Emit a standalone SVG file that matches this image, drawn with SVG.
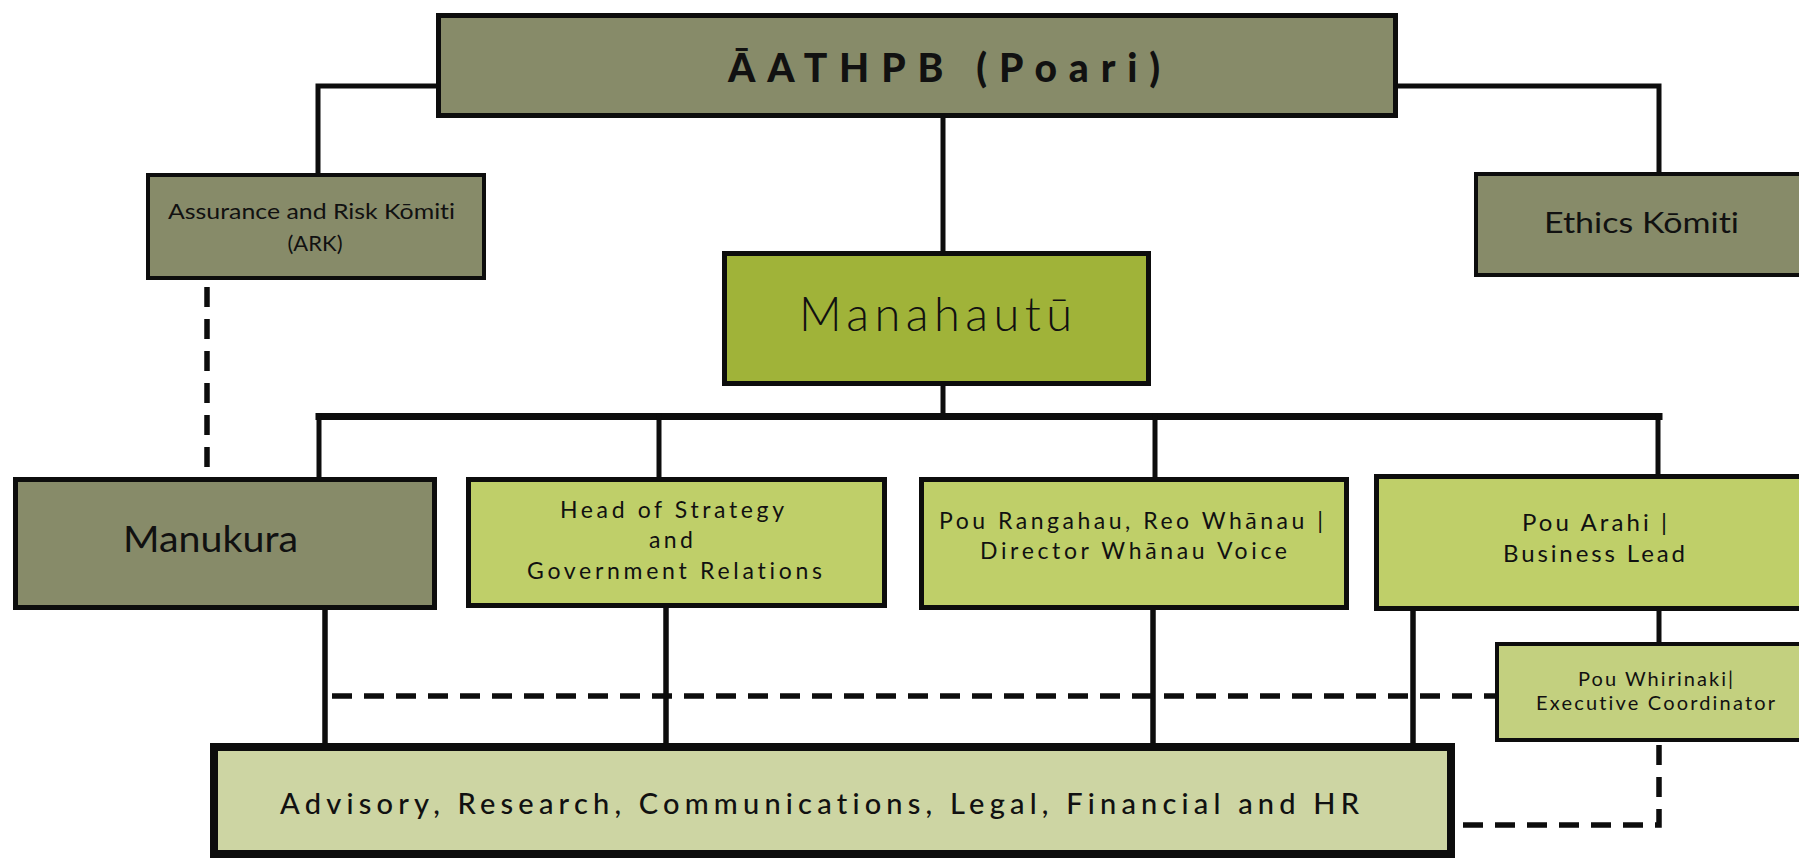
<svg xmlns="http://www.w3.org/2000/svg" width="1799" height="859" viewBox="0 0 1799 859">
<style>
.box{stroke:#0d0d0d;}
.dark{fill:#878b69;}
.lime{fill:#a0b339;}
.light{fill:#bfcf69;}
.pale{fill:#c3d07f;}
.adv{fill:#cdd5a3;}
.t{font-family:Lato,"Open Sans","Liberation Sans",sans-serif;fill:#111;font-variant-ligatures:none;font-feature-settings:"liga" 0,"clig" 0;}
.ln{stroke:#0d0d0d;stroke-width:5;fill:none;stroke-linecap:square;}
.dash{stroke:#0d0d0d;stroke-width:5.5;fill:none;stroke-dasharray:20 12;}
</style>
<rect width="1799" height="859" fill="#ffffff"/>
<g id="connectors">
<path class="ln" d="M436 86 H318 V171"/>
<path class="ln" d="M1398 86 H1659 V171"/>
<path class="ln" d="M943 118 V251"/>
<path class="ln" d="M943 386 V414"/>
<path class="ln" style="stroke-width:7" d="M319 416.5 H1659"/>
<path class="ln" d="M319 416 V477"/>
<path class="ln" d="M659 416 V477"/>
<path class="ln" d="M1155 416 V477"/>
<path class="ln" d="M1658 416 V474"/>
<path class="ln" style="stroke-width:5.5" d="M325 610 V743"/>
<path class="ln" style="stroke-width:5.5" d="M666 608 V743"/>
<path class="ln" style="stroke-width:5.5" d="M1153 610 V743"/>
<path class="ln" style="stroke-width:5.5" d="M1413 611 V743"/>
<path class="ln" d="M1659 611 V642"/>
<path class="dash" d="M207 287 V477"/>
<path class="dash" d="M332 696 H1495"/>
<path class="dash" d="M1659 745 V825 H1455"/>
</g>
<g id="node-board">
<rect class="box dark" stroke-width="5" x="438.5" y="15.5" width="957" height="100"/>
<text class="t" x="728" y="82" font-size="39" font-weight="900" textLength="432" lengthAdjust="spacing">ĀATHPB (Poari)</text>
</g>
<g id="node-ark">
<rect class="box dark" stroke-width="4" x="148" y="175" width="336" height="103"/>
<text class="t" x="168" y="219" font-size="22" textLength="287" lengthAdjust="spacingAndGlyphs">Assurance and Risk Kōmiti</text>
<text class="t" x="315" y="251" font-size="22" text-anchor="middle">(ARK)</text>
</g>
<g id="node-ethics">
<rect class="box dark" stroke-width="4" x="1476" y="174" width="400" height="101"/>
<text class="t" x="1544" y="233" font-size="29" textLength="195" lengthAdjust="spacingAndGlyphs">Ethics Kōmiti</text>
</g>
<g id="node-manahautu">
<rect class="box lime" stroke-width="5" x="724.5" y="253.5" width="424" height="130"/>
<text class="t" x="799" y="331" font-size="47" font-weight="300" textLength="273" lengthAdjust="spacing">Manahautū</text>
</g>
<g id="node-manukura">
<rect class="box dark" stroke-width="5" x="15.5" y="479.5" width="419" height="128"/>
<text class="t" x="123" y="552" font-size="36" textLength="175" lengthAdjust="spacingAndGlyphs">Manukura</text>
</g>
<g id="node-strategy">
<rect class="box light" stroke-width="5" x="468.5" y="479.5" width="416" height="126"/>
<text class="t" x="560" y="518" font-size="23" textLength="224" lengthAdjust="spacing">Head of Strategy</text>
<text class="t" x="649" y="548" font-size="23" textLength="44" lengthAdjust="spacing">and</text>
<text class="t" x="527" y="579" font-size="23" textLength="295" lengthAdjust="spacing">Government Relations</text>
</g>
<g id="node-rangahau">
<rect class="box light" stroke-width="5" x="921.5" y="479.5" width="425" height="128"/>
<text class="t" x="939" y="529" font-size="23" textLength="384" lengthAdjust="spacing">Pou Rangahau, Reo Whānau |</text>
<text class="t" x="980" y="559" font-size="23" textLength="307" lengthAdjust="spacing">Director Whānau Voice</text>
</g>
<g id="node-arahi">
<rect class="box light" stroke-width="5" x="1376.5" y="476.5" width="500" height="132"/>
<text class="t" x="1522" y="531" font-size="24" textLength="145" lengthAdjust="spacing">Pou Arahi |</text>
<text class="t" x="1503" y="562" font-size="24" textLength="182" lengthAdjust="spacing">Business Lead</text>
</g>
<g id="node-whirinaki">
<rect class="box pale" stroke-width="4" x="1497" y="644" width="400" height="96"/>
<text class="t" x="1578" y="686" font-size="20" textLength="155" lengthAdjust="spacing">Pou Whirinaki|</text>
<text class="t" x="1536" y="710" font-size="20" textLength="239" lengthAdjust="spacing">Executive Coordinator</text>
</g>
<g id="node-advisory">
<rect class="box adv" stroke-width="8" x="214" y="747" width="1237" height="107"/>
<text class="t" x="280" y="814" font-size="29" font-weight="500" textLength="1079" lengthAdjust="spacing">Advisory, Research, Communications, Legal, Financial and HR</text>
</g>
</svg>
